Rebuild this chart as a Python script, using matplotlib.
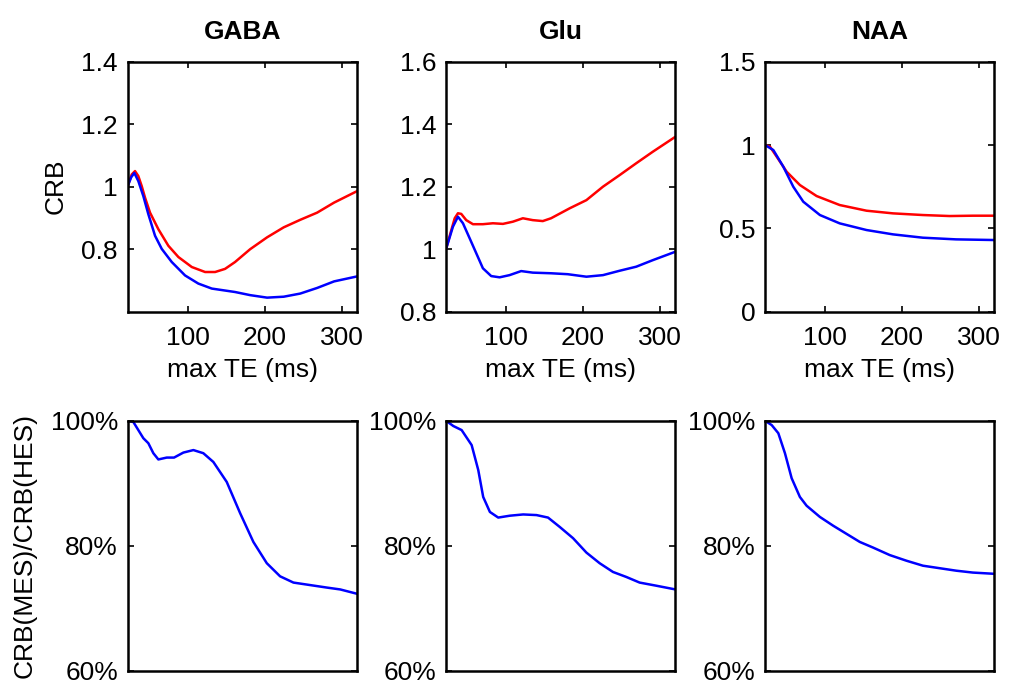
import matplotlib
matplotlib.use("Agg")
import matplotlib.pyplot as plt
from matplotlib.ticker import FuncFormatter, FixedLocator

plt.rcParams['font.family'] = ['Liberation Sans', 'DejaVu Sans']

metabolites = ["GABA", "Glu", "NAA"]

# ---- top row: CRB vs max TE ----
gaba_red_te = [22, 27.2, 31.5, 35.8, 40.2, 44.5, 51, 61.8, 74.8, 87.8, 105.2, 122.5, 135.5, 148.4, 161.4, 181, 203, 224.6, 246, 268, 289.9, 320]
gaba_red = [1.002, 1.039, 1.050, 1.034, 1.002, 0.965, 0.917, 0.864, 0.811, 0.775, 0.743, 0.727, 0.727, 0.737, 0.759, 0.800, 0.838, 0.870, 0.894, 0.917, 0.949, 0.986]
gaba_blue_te = [22, 26.5, 30.6, 35.8, 42.3, 48.8, 57.5, 66.2, 79.2, 96.5, 113.7, 131.2, 161.4, 181, 203, 224.6, 246, 268, 290, 320]
gaba_blue = [1.002, 1.030, 1.044, 1.018, 0.970, 0.912, 0.843, 0.801, 0.759, 0.716, 0.690, 0.674, 0.663, 0.653, 0.645, 0.648, 0.658, 0.676, 0.697, 0.713]

glu_red_te = [22, 28.9, 33.3, 37.5, 41.8, 48.3, 57, 69.9, 82.9, 95.9, 108.8, 121.8, 134.7, 147.7, 158.4, 182.7, 204.3, 225.8, 247.4, 269, 290.6, 320]
glu_red = [1.0, 1.061, 1.099, 1.115, 1.113, 1.093, 1.080, 1.080, 1.083, 1.081, 1.088, 1.099, 1.093, 1.090, 1.099, 1.131, 1.157, 1.200, 1.237, 1.275, 1.312, 1.360]
glu_blue_te = [22, 31, 37.5, 44, 52.7, 61.3, 69.9, 80.7, 91.6, 104.5, 119.6, 134.7, 158.4, 180, 204.3, 225.8, 247.4, 269, 290.6, 320]
glu_blue = [1.0, 1.072, 1.104, 1.083, 1.035, 0.987, 0.939, 0.914, 0.910, 0.917, 0.930, 0.925, 0.923, 0.920, 0.912, 0.917, 0.931, 0.944, 0.965, 0.992]

naa_red_te = [22, 28.5, 37.2, 50.1, 67.3, 89, 119, 153.8, 188.2, 227, 261.7, 292, 320]
naa_red = [1.0, 0.990, 0.930, 0.840, 0.760, 0.694, 0.640, 0.606, 0.590, 0.580, 0.574, 0.576, 0.576]
naa_blue_te = [22, 32.8, 45.8, 58.7, 71.7, 93.3, 119, 153.8, 188.2, 227, 270, 320]
naa_blue = [1.0, 0.970, 0.870, 0.750, 0.660, 0.580, 0.530, 0.490, 0.464, 0.444, 0.434, 0.430]

# ---- bottom row: CRB(MES)/CRB(HES) ----
gaba_ratio_te = [22, 29.3, 42.3, 48.8, 55.3, 61.8, 72.7, 82.2, 94.3, 107.3, 120.2, 133.2, 150.6, 168, 185.2, 202.6, 219.9, 237.2, 258.9, 280.6, 298, 320]
gaba_ratio = [1.0, 0.998, 0.972, 0.964, 0.948, 0.938, 0.941, 0.941, 0.949, 0.953, 0.948, 0.934, 0.902, 0.852, 0.806, 0.772, 0.751, 0.741, 0.737, 0.733, 0.730, 0.723]
glu_ratio_te = [22, 31.5, 42.3, 55.3, 63.9, 70.3, 79, 89.8, 104.9, 122.2, 139.5, 154.5, 169.7, 187, 204.3, 221.5, 238.8, 256.1, 273.4, 295, 320]
glu_ratio = [1.0, 0.9915, 0.985, 0.961, 0.921, 0.878, 0.854, 0.845, 0.848, 0.850, 0.849, 0.845, 0.830, 0.812, 0.789, 0.772, 0.758, 0.750, 0.741, 0.736, 0.730]
naa_ratio_te = [22, 30.7, 39.3, 47.9, 56.6, 67.3, 76, 93.3, 110.5, 127.8, 145.1, 162.3, 184, 205.6, 227.1, 248.7, 270.4, 291.9, 320]
naa_ratio = [1.0, 0.993, 0.980, 0.948, 0.908, 0.878, 0.864, 0.846, 0.832, 0.819, 0.806, 0.797, 0.785, 0.776, 0.768, 0.764, 0.760, 0.757, 0.755]

top_data = [
    (gaba_red_te, gaba_red, gaba_blue_te, gaba_blue),
    (glu_red_te, glu_red, glu_blue_te, glu_blue),
    (naa_red_te, naa_red, naa_blue_te, naa_blue),
]
bottom_data = [(gaba_ratio_te, gaba_ratio), (glu_ratio_te, glu_ratio), (naa_ratio_te, naa_ratio)]

top_ylims = [(0.6, 1.4), (0.8, 1.6), (0.0, 1.5)]
top_yticks = [[0.8, 1.0, 1.2, 1.4], [0.8, 1.0, 1.2, 1.4, 1.6], [0.0, 0.5, 1.0, 1.5]]
x_ticks = [100, 200, 300]
ratio_ticks = [0.6, 0.8, 1.0]

W, H = 1012, 698
fig = plt.figure(figsize=(W / 100, H / 100), dpi=100)

lefts = [127.7, 446, 765]
aw = 229.5
top_y0, top_y1 = 61.7, 311.7
bot_y0, bot_y1 = 420.7, 670.7

FS = 19
LW_SPINE = 1.8
LW_LINE = 1.8

def style(ax):
    for s in ax.spines.values():
        s.set_linewidth(LW_SPINE)
    ax.tick_params(direction='in', length=4, width=1.2, labelsize=FS, pad=7,
                   top=True, right=True)

line_kw = dict(lw=LW_LINE, solid_joinstyle='round', solid_capstyle='round')

for i in range(3):
    l = lefts[i] / W
    ax = fig.add_axes([l, 1 - top_y1 / H, aw / W, (top_y1 - top_y0) / H])
    rx, ry, bx, by = top_data[i]
    ax.plot(rx, ry, color='#ff0000', **line_kw)
    ax.plot(bx, by, color='#0000ff', **line_kw)
    ax.set_xlim(22, 320)
    ax.set_ylim(*top_ylims[i])
    ax.xaxis.set_major_locator(FixedLocator(x_ticks))
    ax.yaxis.set_major_locator(FixedLocator(top_yticks[i]))
    ax.yaxis.set_major_formatter(FuncFormatter(lambda v, p: '%g' % v))
    style(ax)
    ax.tick_params(axis='x', pad=10)
    ax.set_xlabel('max TE (ms)', fontsize=FS, labelpad=6)
    ax.set_title(metabolites[i], fontsize=FS, fontweight='bold', pad=16)
    if i == 0:
        ax.set_ylabel('CRB', fontsize=FS, labelpad=10)

    axb = fig.add_axes([l, 1 - bot_y1 / H, aw / W, (bot_y1 - bot_y0) / H])
    tx, ty = bottom_data[i]
    axb.plot(tx, ty, color='#0000ff', **line_kw)
    axb.set_xlim(22, 320)
    axb.set_ylim(0.6, 1.0)
    axb.set_xticks([])
    axb.yaxis.set_major_locator(FixedLocator(ratio_ticks))
    axb.yaxis.set_major_formatter(FuncFormatter(lambda v, p: '%d%%' % round(v * 100)))
    style(axb)
    if i == 0:
        axb.set_ylabel('CRB(MES)/CRB(HES)', fontsize=FS, labelpad=10)

fig.savefig('out.png', dpi=100)
